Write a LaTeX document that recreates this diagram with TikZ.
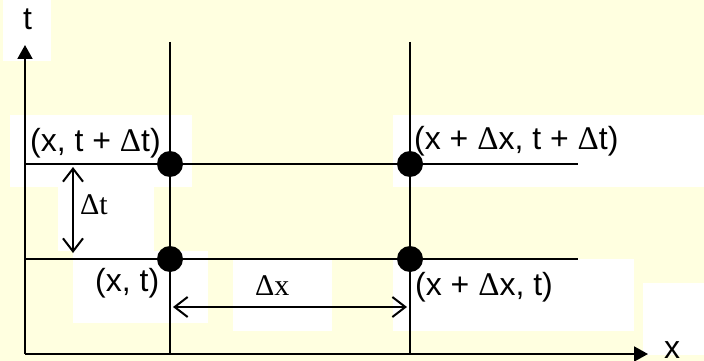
\documentclass[tikz,border=0pt]{standalone}
\usepackage{fontspec}
\setmainfont{Liberation Sans}
\newfontfamily\serifface{Liberation Serif}
\usetikzlibrary{arrows.meta}
\definecolor{paper}{RGB}{255,255,224}
\newcommand{\tridelta}{{\fontsize{33}{33}\serifface Δ}}
\tikzset{
  lbl/.style={font=\fontsize{32}{32}\selectfont, inner sep=0pt},
  dlt/.style={font=\fontsize{30}{30}\serifface, inner sep=0pt},
  gridpt/.style={circle, fill=black, minimum size=26pt, inner sep=0pt},
  ln/.style={line width=2pt},
  axis/.style={ln, -{Triangle[length=14pt,width=15pt]}},
  barb/.style={ln, {Straight Barb[length=13pt,width=20pt]}-{Straight Barb[length=13pt,width=20pt]}},
}
\begin{document}
\begin{tikzpicture}[x=1pt,y=-1pt]
    \fill[paper] (0,0) rectangle (704,361);
    \useasboundingbox (0,0) rectangle (704,361);
    % white pads behind the labels
    \fill[white] (3,0) rectangle (51,61);
    \fill[white] (10,115) rectangle (192,187);
    \fill[white] (58,187) rectangle (154,251);
    \fill[white] (73,251) rectangle (208,323);
    \fill[white] (233,260) rectangle (332,331);
    \fill[white] (393,115) rectangle (704,187);
    \fill[white] (393,259) rectangle (634,331);
    \fill[white] (643,283) rectangle (704,355);
    % axes
    \coordinate (O) at (25,354);
    \coordinate (tend) at (25,45);
    \coordinate (xend) at (648,354);
    \draw[axis] (O) -- (tend);
    \draw[axis] (O) -- (xend);
    % grid lines
    \coordinate (v1top) at (170,42);
    \coordinate (v1bot) at (170,354);
    \coordinate (v2top) at (410,42);
    \coordinate (v2bot) at (410,354);
    \coordinate (h1left) at (25,164);
    \coordinate (h1right) at (578,164);
    \coordinate (h2left) at (25,259);
    \coordinate (h2right) at (578,259);
    \draw[ln] (v1top) -- (v1bot);
    \draw[ln] (v2top) -- (v2bot);
    \draw[ln] (h1left) -- (h1right);
    \draw[ln] (h2left) -- (h2right);
    % grid points
    \node[gridpt] (p00) at (170,259) {};
    \node[gridpt] (p10) at (410,259) {};
    \node[gridpt] (p01) at (170,164) {};
    \node[gridpt] (p11) at (410,164) {};
    % steps
    \coordinate (dttop) at (73,167);
    \coordinate (dtbot) at (73,253);
    \coordinate (dxleft) at (173,307);
    \coordinate (dxright) at (407,307);
    \draw[barb] (dttop) -- (dtbot);
    \draw[barb] (dxleft) -- (dxright);
    % labels
    \node[lbl, anchor=base] (tlabel) at (27.5,30) {t};
    \node[lbl, anchor=base] (xlabel) at (672,358) {x};
    \node[lbl, anchor=base west] (l01) at (30,151) {(x, t + \tridelta t)};
    \node[lbl, anchor=base west] (l11) at (414,149) {(x + \tridelta x, t + \tridelta t)};
    \node[lbl, anchor=base west] (l00) at (95,291) {(x, t)};
    \node[lbl, anchor=base west] (l10) at (415,295) {(x + \tridelta x, t)};
    \node[dlt, anchor=base west] (ldt) at (80,214) {Δt};
    \node[dlt, anchor=base west] (ldx) at (255,295) {Δx};
\end{tikzpicture}
\end{document}
